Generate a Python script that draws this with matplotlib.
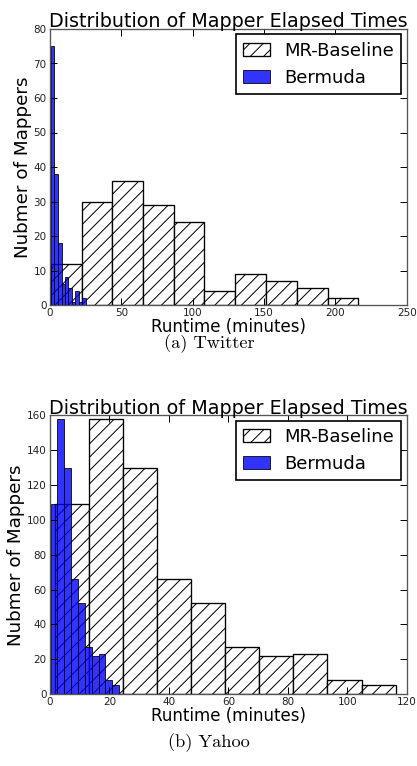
import matplotlib
matplotlib.use('Agg')
import matplotlib.pyplot as plt
import numpy as np

# Twitter (a)
tw_mr_edges = [0.7, 22.2, 43.4, 65.4, 86.7, 108.1, 129.7, 151.1, 172.9, 194.6, 216.1]
tw_mr_counts = [12, 30, 36, 29, 24, 4, 9, 7, 5, 2]
tw_bm_edges = [0.7, 2.8, 5.4, 8.2, 10.3, 12.8, 15.2, 17.3, 20.1, 22.4, 25.0]
tw_bm_counts = [75, 38, 18, 6, 8, 5, 1, 4, 1, 2]
tw_xticks = [0, 50, 100, 150, 200, 250]
tw_yticks = [0, 10, 20, 30, 40, 50, 60, 70, 80]

# Yahoo (b)
ya_mr_edges = [1.6, 13.1, 24.6, 36.0, 47.5, 59.0, 70.4, 81.9, 93.3, 104.9, 116.4]
ya_mr_counts = [109, 158, 130, 66, 52, 27, 22, 23, 8, 5]
ya_bm_edges = [0.2, 2.5, 4.8, 7.2, 9.5, 11.8, 14.0, 16.4, 18.6, 20.9, 23.2]
ya_bm_counts = [109, 158, 130, 66, 52, 27, 22, 23, 8, 5]
ya_xticks = [0, 20, 40, 60, 80, 100, 120]
ya_yticks = [0, 20, 40, 60, 80, 100, 120, 140, 160]

W, H, DPI = 417, 766, 120
plt.rcParams['hatch.linewidth'] = 0.6

fig = plt.figure(figsize=(W / DPI, H / DPI), dpi=DPI)


def px_axes(left, top, right, bottom):
    return fig.add_axes([left / W, 1 - bottom / H, (right - left) / W, (bottom - top) / H])


def draw(ax, mr_edges, mr_counts, bm_edges, bm_counts, xticks, yticks):
    mr_edges = np.array(mr_edges)
    bm_edges = np.array(bm_edges)
    ax.bar(mr_edges[:-1], mr_counts, width=np.diff(mr_edges), align='edge',
           facecolor='white', edgecolor='black', hatch='///', linewidth=0.8,
           label='MR-Baseline')
    ax.bar(bm_edges[:-1], bm_counts, width=np.diff(bm_edges), align='edge',
           color='blue', edgecolor='black', linewidth=0.6, alpha=0.8,
           label='Bermuda')
    ax.set_xlim(xticks[0], xticks[-1])
    ax.set_ylim(yticks[0], yticks[-1])
    ax.set_xticks(xticks)
    ax.set_yticks(yticks)
    ax.tick_params(direction='in', top=True, right=True, labelsize=6.2,
                   labelcolor='#222222', length=4, width=0.6, pad=2)
    for s in ax.spines.values():
        s.set_color('#555555')
        s.set_linewidth(0.8)
    ax.set_title('Distribution of Mapper Elapsed Times', fontsize=11.5, pad=1)
    ax.set_xlabel('Runtime (minutes)', fontsize=10, labelpad=0)
    ax.set_ylabel('Nubmer of Mappers', fontsize=11, labelpad=1)
    ax.legend(loc='upper right', fontsize=10.8, handlelength=1.5,
              borderaxespad=0.3, fancybox=False, edgecolor='black',
              framealpha=1)


ax1 = px_axes(50, 29, 406.7, 305)
draw(ax1, tw_mr_edges, tw_mr_counts, tw_bm_edges, tw_bm_counts, tw_xticks, tw_yticks)
fig.text(209 / W, 1 - 344 / H, '(a) Twitter', family='cmr10', fontsize=11,
         ha='center', va='center')

ax2 = px_axes(50, 415.5, 406.7, 694)
draw(ax2, ya_mr_edges, ya_mr_counts, ya_bm_edges, ya_bm_counts, ya_xticks, ya_yticks)
fig.text(209 / W, 1 - 743 / H, '(b) Yahoo', family='cmr10', fontsize=11,
         ha='center', va='center')

fig.savefig('out.png', dpi=DPI, facecolor='white')
